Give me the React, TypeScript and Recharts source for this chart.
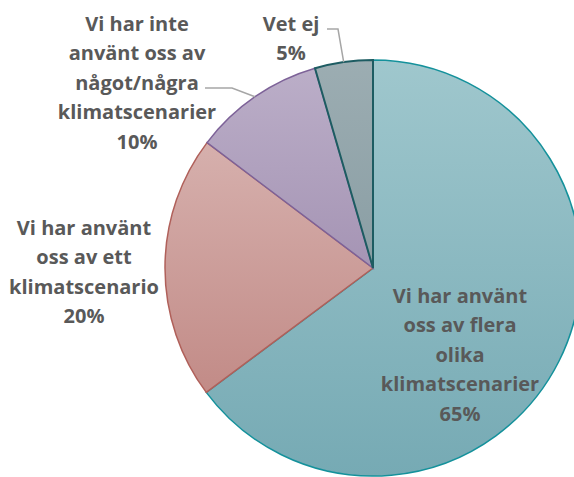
import React from "react";
import { PieChart, Pie, Cell } from "recharts";

const categories = [
  "Vi har använt oss av flera olika klimatscenarier",
  "Vi har använt oss av ett klimatscenario",
  "Vi har inte använt oss av något/några klimatscenarier",
  "Vet ej",
];
const values = [64.8, 20.5, 10.2, 4.5];
const labelLines = [
  ["Vi har använt", "oss av flera", "olika", "klimatscenarier", "65%"],
  ["Vi har använt", "oss av ett", "klimatscenario", "20%"],
  ["Vi har inte", "använt oss av", "något/några", "klimatscenarier", "10%"],
  ["Vet ej", "5%"],
];

const data = categories.map((name, i) => ({ name, value: values[i] }));

const gradTop = ["#9fc7cd", "#d6b0ad", "#bbaec8", "#9cadb2"];
const gradBottom = ["#76aab4", "#c28b87", "#a594b4", "#8a9ea4"];
const strokes = ["#14919b", "#b0605a", "#7d6298", "#1d5c62"];
const strokeWidths = [1.5, 1.5, 1.5, 2];

// label layout relative to pie centre
const labelPos = [
  { dx: 87, dy: 27 },
  { dx: -289, dy: -41 },
  { dx: -236, dy: -245 },
  { dx: -82, dy: -245 },
];
const leaders: (number[][] | null)[] = [
  null,
  null,
  [
    [-141, -180],
    [-168, -180],
  ],
  [
    [-35, -239],
    [-46, -239],
  ],
];

const LINE_H = 29.6;
const RAD = Math.PI / 180;

const renderLabel = (props: any) => {
  const { cx, cy, midAngle, outerRadius, index } = props;
  const pos = labelPos[index];
  const lines = labelLines[index];
  const lead = leaders[index];
  let path: string | null = null;
  if (lead) {
    const ex = cx + outerRadius * Math.cos(-midAngle * RAD);
    const ey = cy + outerRadius * Math.sin(-midAngle * RAD);
    path =
      `M${ex},${ey}` + lead.map((p) => ` L${cx + p[0]},${cy + p[1]}`).join("");
  }
  return (
    <g key={`lbl-${index}`}>
      {path && <path d={path} stroke="#a6a6a6" strokeWidth={1.5} fill="none" />}
      {lines.map((t, j) => (
        <text
          key={j}
          x={cx + pos.dx}
          y={cy + pos.dy + j * LINE_H}
          textAnchor="middle"
          dominantBaseline="central"
          fill="#595959"
          fontFamily="'Open Sans', sans-serif"
          fontWeight={700}
          fontSize={20}
        >
          {t}
        </text>
      ))}
    </g>
  );
};

export default function App() {
  return (
    <div style={{ position: "absolute", left: 0, top: 0, width: 574, height: 477, background: "#fff" }}>
      <svg width={0} height={0} style={{ position: "absolute" }}>
        <defs>
          {gradTop.map((c, i) => (
            <linearGradient key={i} id={`g${i}`} x1="0" y1="0" x2="0" y2="1">
              <stop offset="0%" stopColor={c} />
              <stop offset="100%" stopColor={gradBottom[i]} />
            </linearGradient>
          ))}
        </defs>
      </svg>
      <PieChart width={574} height={477} margin={{ top: 0, right: 0, bottom: 0, left: 0 }}>
        <Pie
          data={data}
          dataKey="value"
          nameKey="name"
          cx={373}
          cy={268}
          outerRadius={208}
          startAngle={90}
          endAngle={-270}
          isAnimationActive={false}
          label={renderLabel}
          labelLine={false}
        >
          {data.map((_, i) => (
            <Cell key={i} fill={`url(#g${i})`} stroke={strokes[i]} strokeWidth={strokeWidths[i]} />
          ))}
        </Pie>
      </PieChart>
    </div>
  );
}
